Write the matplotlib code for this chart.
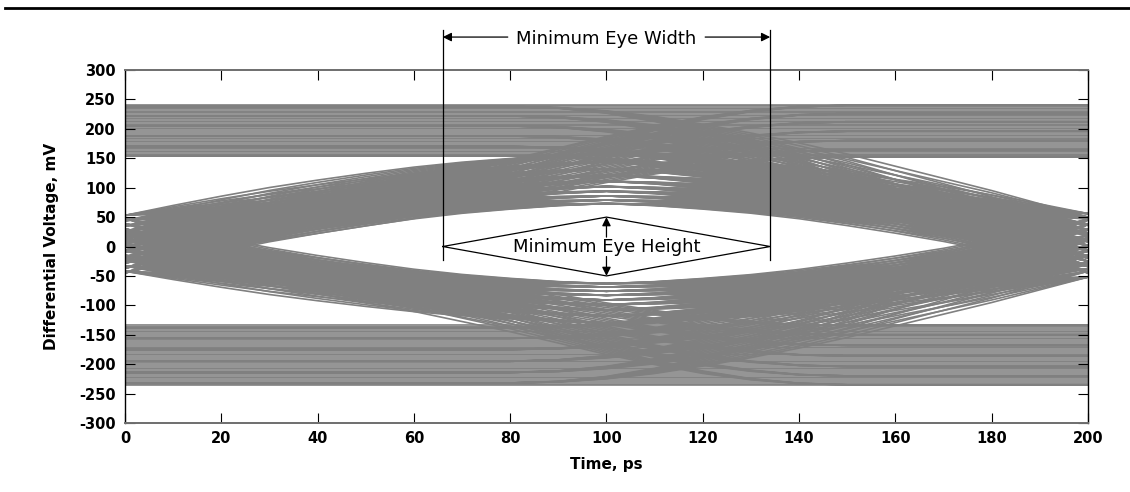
import numpy as np
import matplotlib
matplotlib.use("Agg")
import matplotlib.pyplot as plt
from itertools import product

plt.rcParams["axes.unicode_minus"] = False

# ---------------- data ----------------
t_ps = np.array([0, 10, 20, 30, 40, 50, 60, 70, 80, 90, 100,
                 110, 120, 130, 140, 150, 160, 170, 180, 190, 200])

# normalised trace shapes sampled every 10 ps
pulse_shape = [0, .16, .31, .45, .57, .68, .78, .86, .92, .97, 1.0,
               .97, .92, .86, .78, .68, .57, .45, .31, .16, 0]
rise_shape = [0, .07, .14, .21, .28, .35, .42, .50, .58, .67, .76,
              .84, .91, .96, .99, 1, 1, 1, 1, 1, 1]
hold_fall_shape = [1, 1, 1, 1, 1, 1, 1, 1, 1, .99, .96,
                   .91, .84, .76, .67, .57, .46, .35, .24, .12, 0]

# steady levels (mV)
high_levels = [240, 238, 236, 234, 231, 229, 227, 224, 222, 219, 217, 214,
               212, 209, 207, 204, 201, 199, 196, 193, 190, 188, 185, 182,
               179, 177, 174, 171, 168, 166, 163, 160, 158, 155, 153]
low_levels = [-134, -137, -140, -143, -146, -149, -152, -155, -158, -161,
              -164, -167, -170, -173, -176, -179, -182, -185, -188, -191,
              -194, -197, -200, -203, -206, -209, -212, -215, -218, -221,
              -224, -227, -230, -233, -235]

# isolated "1" pulses: crossing at 0 ps, peak at 100 ps, crossing at 200 ps
up_pulse_start = [53, 44, 35, 26, 17, 8, -1, -10, -19, -28, -37, -45]
up_pulse_end = [56, 47, 38, 29, 20, 11, 2, -7, -16, -25, -34, -44]
up_pulse_peak = [73, 79, 86, 94, 102, 111, 121, 132, 144, 158]
# isolated "0" pulses
dn_pulse_start = [48, 39, 30, 21, 12, 3, -6, -15, -24, -33, -42]
dn_pulse_end = [46, 37, 28, 19, 10, 1, -8, -17, -27, -38, -52]
dn_pulse_peak = [-63, -69, -76, -83, -91, -99, -108, -118, -130]
# rise then stay high / fall then stay low (from crossing at 0 ps)
rise_start = [-28, -17, -6, 5, 14, 20]
rise_target = [240, 226, 212, 196, 180, 164, 152]
fall_start = [25, 14, 3, -8, -20]
fall_target = [-134, -150, -168, -186, -204, -220, -235]
# stay high then fall / stay low then rise (to crossing at 200 ps)
hold_high_end = [50, 36, 22, 8, -6, -20, -33, -45]
hold_high_level = [238, 222, 205, 188, 170, 154]
hold_low_end = [45, 30, 15, 0, -15, -30, -42, -52]
hold_low_level = [-138, -156, -175, -195, -214, -232]

# annotation values
eye_width_left, eye_width_right = 66, 134
eye_height_top, eye_height_bottom = 50, -50
eye_center_t = 100

x_ticks = list(range(0, 201, 20))
y_ticks = list(range(-300, 301, 50))

# ---------------- figure ----------------
fig = plt.figure(figsize=(11.3, 4.92), dpi=100)
ax = fig.add_axes([0.1106, 0.1402, 0.8522, 0.7175])

trace_kw = dict(color="#808080", lw=1.2, solid_capstyle="butt", zorder=1)
t = t_ps
ps = np.array(pulse_shape)
rs = np.array(rise_shape)
hf = np.array(hold_fall_shape)
left = t <= 100

for lv in high_levels + low_levels:
    ax.plot(t, np.full_like(t, lv, dtype=float), **trace_kw)

for i, c0 in enumerate(up_pulse_start):
    c1 = up_pulse_end[(i * 5) % len(up_pulse_end)]
    for p in up_pulse_peak:
        c = np.where(left, c0, c1)
        ax.plot(t, c + (p - c) * ps, **trace_kw)

for i, c0 in enumerate(dn_pulse_start):
    c1 = dn_pulse_end[(i * 4) % len(dn_pulse_end)]
    for p in dn_pulse_peak:
        c = np.where(left, c0, c1)
        ax.plot(t, c + (p - c) * ps, **trace_kw)

for c0, lv in product(rise_start, rise_target):
    ax.plot(t, c0 + (lv - c0) * rs, **trace_kw)
for c0, lv in product(fall_start, fall_target):
    ax.plot(t, c0 + (lv - c0) * rs, **trace_kw)
for c1, lv in product(hold_high_end, hold_high_level):
    ax.plot(t, c1 + (lv - c1) * hf, **trace_kw)
for c1, lv in product(hold_low_end, hold_low_level):
    ax.plot(t, c1 + (lv - c1) * hf, **trace_kw)

ax.set_xlim(0, 200)
ax.set_ylim(-300, 300)
ax.set_xticks(x_ticks)
ax.set_yticks(y_ticks)
ax.tick_params(which="both", direction="in", top=True, right=True,
               length=7, width=0.8, labelsize=10.5)
ax.tick_params(axis="y", pad=6.5)
ax.tick_params(axis="x", pad=5.5)
for lab in ax.get_xticklabels() + ax.get_yticklabels():
    lab.set_fontweight("bold")
for side in ["left", "right"]:
    ax.spines[side].set_color("black")
    ax.spines[side].set_linewidth(1.0)
for side in ["top", "bottom"]:
    ax.spines[side].set_color("#6e6e6e")
    ax.spines[side].set_linewidth(1.4)

ax.set_xlabel("Time, ps", fontsize=11, fontweight="bold")
ax.set_ylabel("Differential Voltage, mV", fontsize=11, fontweight="bold")
ax.yaxis.set_label_coords(-0.068, 0.5)
ax.xaxis.set_label_coords(0.5, -0.096)

# ---------------- annotations ----------------
ak = dict(color="black", lw=0.9, zorder=5)
for tx in (eye_width_left, eye_width_right):
    ax.plot([tx, tx], [-23, 368], clip_on=False, **ak)

ax.text(eye_center_t, 353, "Minimum Eye Width", ha="center", va="center",
        fontsize=13, zorder=6)
arrow = dict(arrowstyle="-|>", color="black", lw=0.9, mutation_scale=13,
             shrinkA=0, shrinkB=0)
ax.annotate("", xy=(eye_width_left, 356), xytext=(79.5, 356),
            arrowprops=arrow, annotation_clip=False)
ax.annotate("", xy=(eye_width_right, 356), xytext=(120.5, 356),
            arrowprops=arrow, annotation_clip=False)

ax.plot([eye_width_left, eye_center_t, eye_width_right, eye_center_t,
         eye_width_left],
        [0, eye_height_top, 0, eye_height_bottom, 0], **ak)
ax.text(eye_center_t, 0, "Minimum Eye Height", ha="center", va="center",
        fontsize=13, zorder=6)
ax.annotate("", xy=(eye_center_t, eye_height_top), xytext=(eye_center_t, 16),
            arrowprops=arrow)
ax.annotate("", xy=(eye_center_t, eye_height_bottom),
            xytext=(eye_center_t, -17), arrowprops=arrow)

# top rule
fig.add_artist(plt.Line2D([0.004, 1.0], [0.9837, 0.9837], color="black",
                          lw=2.0, transform=fig.transFigure))

fig.savefig("out.png", dpi=100)
